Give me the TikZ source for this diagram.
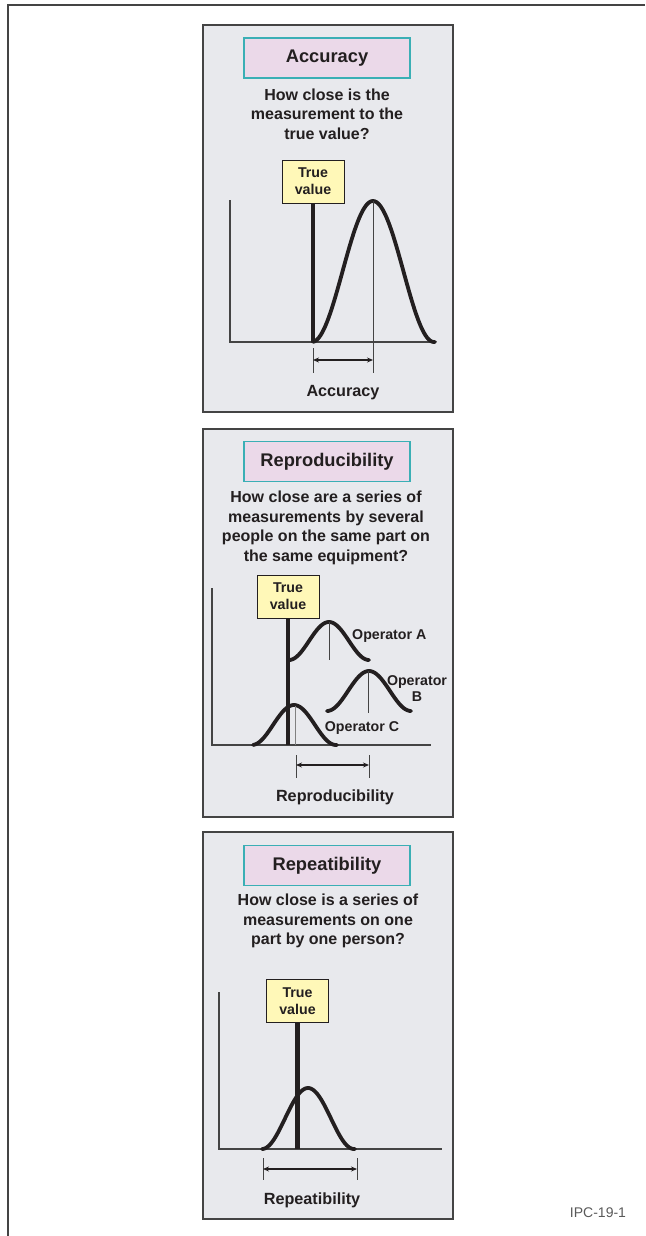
\documentclass[tikz,border=0pt]{standalone}
\usepackage{fontspec}
\setmainfont{Liberation Sans}
\usetikzlibrary{arrows.meta}
\definecolor{panelbg}{HTML}{E8E9ED}
\definecolor{titlebg}{HTML}{EBD9E9}
\definecolor{tealb}{HTML}{3AAFB5}
\definecolor{truebg}{HTML}{FFF8B8}
\definecolor{ink}{HTML}{231F20}
\definecolor{framec}{HTML}{444444}
\begin{document}
\begin{tikzpicture}[x=1pt,y=-1pt,
 panel/.style={draw=framec, line width=1.3pt, fill=panelbg, minimum width=250pt, inner sep=0pt},
 titlebox/.style={draw=tealb, line width=1.3pt, fill=titlebg, minimum width=166pt, minimum height=40pt, inner sep=0pt, font=\fontsize{18.3}{20}\selectfont\bfseries, text=ink},
 question/.style={align=center, font=\fontsize{16}{19.5}\selectfont\bfseries, text=ink, inner sep=0pt},
 truebox/.style={draw=ink, line width=1pt, fill=truebg, minimum width=62pt, minimum height=43pt, inner sep=0pt, align=center, font=\fontsize{14.2}{16.7}\selectfont\bfseries, text=ink},
 curve/.style={line width=3.8pt, ink, line cap=round, line join=round},
 trueline/.style={line width=4.2pt, ink},
 axisln/.style={line width=1.2pt, framec},
 thinln/.style={line width=1pt, framec},
 dimln/.style={line width=1.1pt, ink, {Stealth[length=6pt,width=5pt]}-{Stealth[length=6pt,width=5pt]}},
 lbl/.style={font=\fontsize{16.2}{18}\selectfont\bfseries, text=ink, inner sep=0pt},
 oplbl/.style={font=\fontsize{14.2}{16.7}\selectfont\bfseries, text=ink, inner sep=0pt, align=center}
]
\useasboundingbox (0,0) rectangle (645,1236);
% outer frame
\draw[line width=1.3pt, framec] (8,1236) -- (8,5) -- (645,5);

% ---------------- Panel 1: Accuracy ----------------
\node[panel, minimum height=387pt] (p1) at (328,218.5) {};
\node[titlebox] (h1) at (327,58) {Accuracy};
\node[question] (q1) at (327,114) {How close is the\\measurement to the\\true value?};
\node[truebox] (t1) at (313,181.5) {True\\value};
\coordinate (a1) at (230,342);
\draw[axisln] (230,200) -- (a1) -- (435,342);
\draw[trueline] (t1.south) -- (t1.south |- a1);
\draw[curve] plot[domain=313:435, samples=80] (\x,{342-141*(1+cos(180*(\x-373)/61))/2});
\draw[thinln] (373,201) -- (373,373);
\draw[thinln] (313,348) -- (313,373);
\coordinate (d1l) at (313,360);
\coordinate (d1r) at (373,360);
\draw[dimln] (d1l) -- (d1r);
\node[lbl] (l1) at (343,393) {Accuracy};

% ---------------- Panel 2: Reproducibility ----------------
\node[panel, minimum height=388pt] (p2) at (328,623) {};
\node[titlebox] (h2) at (327,461.5) {Reproducibility};
\node[question] (q2) at (326,528) {How close are a series of\\measurements by several\\people on the same part on\\the same equipment?};
\node[truebox] (t2) at (288,596.5) {True\\value};
\coordinate (a2) at (212,745);
\draw[axisln] (212,588) -- (a2) -- (431,745);
\draw[trueline] (t2.south) -- (t2.south |- a2);
% operator A
\draw[curve] plot[domain=289:369, samples=60] (\x,{660-38*(1+cos(180*(\x-329)/40))/2});
\draw[thinln] (329,622) -- (329,660);
\node[oplbl, anchor=west] (oa) at (352,636) {Operator A};
% operator B
\draw[curve] plot[domain=327:411, samples=60] (\x,{711-40*(1+cos(180*(\x-369)/42))/2});
\draw[thinln] (368,671) -- (368,713);
\node[oplbl] (ob) at (417,688.5) {Operator\\B};
% operator C
\draw[curve] plot[domain=253:337, samples=60] (\x,{745-40*(1+cos(180*(\x-294)/42))/2});
\draw[line width=1pt, gray] (295,706) -- (295,745);
\node[oplbl] (oc) at (362,728) {Operator C};
\draw[thinln] (296,755) -- (296,778);
\draw[thinln] (369,755) -- (369,778);
\coordinate (d2l) at (296,765);
\coordinate (d2r) at (369,765);
\draw[dimln] (d2l) -- (d2r);
\node[lbl] (l2) at (335,797) {Reproducibility};

% ---------------- Panel 3: Repeatibility ----------------
\node[panel, minimum height=387pt] (p3) at (328,1025.5) {};
\node[titlebox] (h3) at (327,865.5) {Repeatibility};
\node[question] (q3) at (328,921) {How close is a series of\\measurements on one\\part by one person?};
\node[truebox] (t3) at (297.5,1001) {True\\value};
\coordinate (a3) at (219,1149);
\draw[axisln] (219,992) -- (a3) -- (442,1149);
\draw[trueline] (t3.south) -- (t3.south |- a3);
\draw[curve] plot[domain=262:355, samples=70] (\x,{1149-61*(1+cos(180*(\x-308)/46))/2});
\draw[thinln] (263,1158) -- (263,1180);
\draw[thinln] (357,1158) -- (357,1180);
\coordinate (d3l) at (263,1169);
\coordinate (d3r) at (357,1169);
\draw[dimln] (d3l) -- (d3r);
\node[lbl] (l3) at (312,1200) {Repeatibility};

% figure id
\node[font=\fontsize{14}{16}\selectfont, text=black!65, inner sep=0pt] (id) at (598,1213) {IPC-19-1};
\end{tikzpicture}
\end{document}
